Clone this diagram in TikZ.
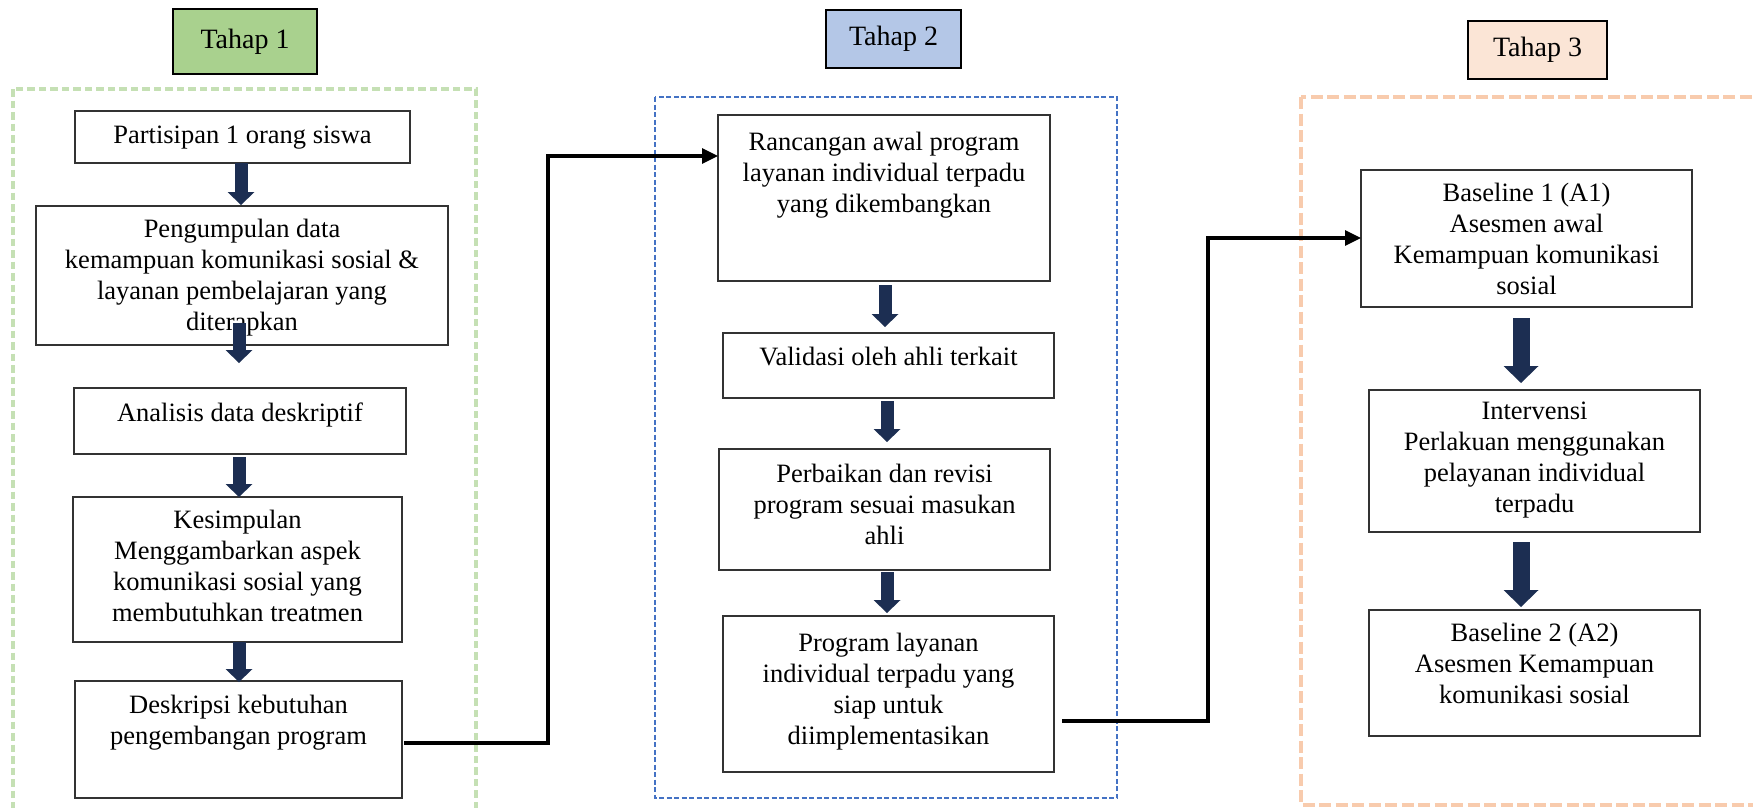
\documentclass[tikz,border=0pt]{standalone}
\usepackage{fontspec}
\setmainfont{Liberation Serif}
\usetikzlibrary{arrows.meta,calc}
\definecolor{tgreen}{HTML}{A9D18E}
\definecolor{tblue}{HTML}{B4C7E7}
\definecolor{torange}{HTML}{FBE5D6}
\definecolor{fgreen}{HTML}{C5E0B4}
\definecolor{fblue}{HTML}{4472C4}
\definecolor{forange}{HTML}{F8CBAD}
\definecolor{navy}{HTML}{1C2E52}
\definecolor{boxline}{HTML}{333333}
\begin{document}
\begin{tikzpicture}[x=1pt,y=1pt,
  box/.style={draw=boxline,line width=1.8pt,inner sep=0pt,outer sep=0pt},
  tahap/.style={draw=black,line width=1.8pt,inner sep=0pt,outer sep=0pt,font=\fontsize{28}{32}\selectfont},
  txt/.style={inner sep=0pt,align=center,font=\fontsize{26.5}{31}\selectfont,execute at begin node=\strut,execute at end node=\strut},
  conn/.style={line width=3.2pt,draw=black,-{Triangle[length=16pt,width=15pt]}},
  blkS/.style={line width=13pt,draw=navy,-{Triangle[width=27pt,length=13pt,line width=0pt]}},
  blkL/.style={line width=17pt,draw=navy,-{Triangle[width=35pt,length=17pt,line width=0pt]}},
  gframe/.style={draw=fgreen,line width=3.4pt,dash pattern=on 7.5pt off 4pt},
  bframe/.style={draw=fblue,line width=2.3pt,dash pattern=on 5pt off 2.5pt},
  oframe/.style={draw=forange,line width=4pt,dash pattern=on 12pt off 4.5pt}
]
\useasboundingbox (0,0) rectangle (1753,-808);
\clip (0,0) rectangle (1753,-808);

% dashed stage frames
\draw[gframe] (13,-89) rectangle (476,-850);
\draw[bframe] (655,-97) rectangle (1117,-798);
\draw[oframe] (1301,-97) rectangle (1800,-805);

% stage labels
\node[tahap,fill=tgreen,minimum width=144,minimum height=65] (t1) at (245,-41.5) {Tahap 1};
\node[tahap,fill=tblue,minimum width=135,minimum height=58] (t2) at (893.5,-39) {Tahap 2};
\node[tahap,fill=torange,minimum width=139,minimum height=58] (t3) at (1537.5,-50) {Tahap 3};

% boxes column 1
\node[box,minimum width=335,minimum height=52] (p1) at (242.5,-137) {};
\node[box,minimum width=412,minimum height=139] (p2) at (242,-275.5) {};
\node[box,minimum width=332,minimum height=66] (p3) at (240,-421) {};
\node[box,minimum width=329,minimum height=145] (p4) at (237.5,-569.5) {};
\node[box,minimum width=327,minimum height=117] (p5) at (238.5,-739.5) {};
% boxes column 2
\node[box,minimum width=332,minimum height=166] (m1) at (884,-198) {};
\node[box,minimum width=331,minimum height=65] (m2) at (888.5,-365.5) {};
\node[box,minimum width=331,minimum height=121] (m3) at (884.5,-509.5) {};
\node[box,minimum width=331,minimum height=156] (m4) at (888.5,-694) {};
% boxes column 3
\node[box,minimum width=331,minimum height=137] (r1) at (1526.5,-238.5) {};
\node[box,minimum width=331,minimum height=142] (r2) at (1534.5,-461) {};
\node[box,minimum width=331,minimum height=126] (r3) at (1534.5,-673) {};

% texts
\node[txt] (p1t) at (242.5,-137) {Partisipan 1 orang siswa};
\node[txt] (p2t) at (242,-279) {Pengumpulan data\\kemampuan komunikasi sosial \&\\layanan pembelajaran yang\\diterapkan};
\node[txt] (p3t) at (240,-415) {Analisis data deskriptif};
\node[txt] (p4t) at (237.5,-570) {Kesimpulan\\Menggambarkan aspek\\komunikasi sosial yang\\membutuhkan treatmen};
\node[txt] (p5t) at (238.5,-724) {Deskripsi kebutuhan\\pengembangan program};
\node[txt] (m1t) at (884,-176.5) {Rancangan awal program\\layanan individual terpadu\\yang dikembangkan};
\node[txt] (m2t) at (888.5,-359) {Validasi oleh ahli terkait};
\node[txt] (m3t) at (884.5,-509) {Perbaikan dan revisi\\program sesuai masukan\\ahli};
\node[txt] (m4t) at (888.5,-693) {Program layanan\\individual terpadu yang\\siap untuk\\diimplementasikan};
\node[txt] (r1t) at (1526.5,-243) {Baseline 1 (A1)\\Asesmen awal\\Kemampuan komunikasi\\sosial};
\node[txt] (r2t) at (1534.5,-461.5) {Intervensi\\Perlakuan menggunakan\\pelayanan individual\\terpadu};
\node[txt] (r3t) at (1534.5,-668) {Baseline 2 (A2)\\Asesmen Kemampuan\\komunikasi sosial};

% connectors between stages
\coordinate (j1) at (548,-743);
\coordinate (j2) at (548,-156);
\draw[conn] ($(p5.east |- j1)+(2,0)$) -- (j1) -- (j2) -- (m1.west |- j2);
\coordinate (j3) at (1208,-721);
\coordinate (j4) at (1208,-238);
\draw[conn] ($(m4.east |- j3)+(8,0)$) -- (j3) -- (j4) -- (r1.west |- j4);

% block arrows
\draw[blkS] ($(p1.south)+(-1.5,0)$) -- ($(p2.north)+(-1,1)$);
\draw[blkS] ($(p2.south)+(-3,22)$) -- ($(p3.north)+(-1,25)$);
\draw[blkS] ($(p3.south)+(-1,-3)$) -- ($(p4.north)+(1.5,0)$);
\draw[blkS] ($(p4.south)+(1.5,0)$) -- ($(p5.north)+(0.5,-1)$);
\draw[blkS] ($(m1.south)+(1,-4)$) -- ($(m2.north)+(-3.5,6)$);
\draw[blkS] ($(m2.south)+(-1.5,-3)$) -- ($(m3.north)+(2.5,7)$);
\draw[blkS] ($(m3.south)+(2.5,-2)$) -- ($(m4.north)+(-1.5,3)$);
\draw[blkL] ($(r1.south)+(-5.5,-11)$) -- ($(r2.north)+(-13.5,7)$);
\draw[blkL] ($(r2.south)+(-13.5,-10)$) -- ($(r3.north)+(-13.5,3)$);
\end{tikzpicture}
\end{document}
